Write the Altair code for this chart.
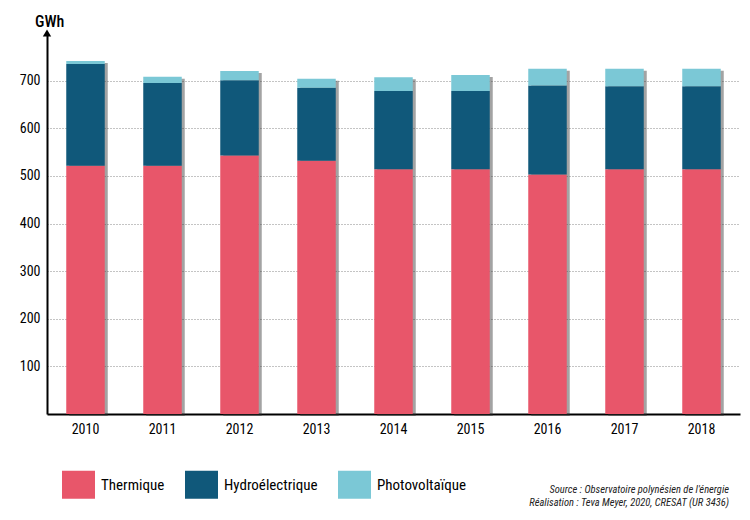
import altair as alt
import pandas as pd

years = ["2010", "2011", "2012", "2013", "2014", "2015", "2016", "2017", "2018"]
thermique = [521, 521, 543, 532, 514, 514, 503, 514, 514]
hydro = [214, 174, 158, 153, 164, 164, 187, 174, 174]
photo = [6, 13, 19, 19, 29, 34, 35, 37, 37]
sources = ["Thermique", "Hydroélectrique", "Photovoltaïque"]
colors = ["#E8566A", "#10587A", "#7BC8D6"]
y_ticks = [100, 200, 300, 400, 500, 600, 700]
credit = "Source : Observatoire polynésien de l'énergie\nRéalisation : Teva Meyer, 2020, CRESAT (UR 3436)"

rows = []
for i, yr in enumerate(years):
    for k, (s, v) in enumerate(zip(sources, [thermique[i], hydro[i], photo[i]])):
        rows.append({"annee": yr, "source": s, "valeur": v, "ordre": k})
df = pd.DataFrame(rows)
tot = pd.DataFrame({"annee": years,
                    "total": [a + b + c for a, b, c in zip(thermique, hydro, photo)]})

FONT = "Liberation Sans Narrow, Roboto Condensed, DejaVu Sans Condensed, Roboto"
W, H = 693, 381

xenc = alt.X("annee:N", sort=years,
             scale=alt.Scale(paddingInner=0.5, paddingOuter=0.25),
             axis=alt.Axis(title=None, labelAngle=0, ticks=False, domainColor="black",
                           domainWidth=2, labelPadding=8, labelFontSize=14,
                           labelColor="black", grid=False))
yscale = alt.Scale(domain=[0, 800], nice=False)
yaxis = alt.Axis(values=y_ticks, title=None, ticks=False, domainColor="black",
                 domainWidth=2, gridDash=[1, 2], gridColor="#888",
                 labelPadding=7, labelFontSize=14, labelColor="black")

shadow = alt.Chart(tot).mark_bar(color="#333", opacity=0.45).encode(
    x=xenc,
    y=alt.Y("total:Q", scale=yscale, axis=yaxis),
    xOffset=alt.value(3),
    yOffset=alt.value(2),
)

bars = alt.Chart(df).mark_bar().encode(
    x=xenc,
    y=alt.Y("valeur:Q", stack="zero", scale=yscale, axis=yaxis),
    color=alt.Color("source:N", scale=alt.Scale(domain=sources, range=colors),
                    legend=alt.Legend(orient="none", legendX=15, legendY=435,
                                      direction="horizontal", title=None,
                                      symbolType="M-1,-0.85H1V0.85H-1Z",
                                      symbolSize=1089, symbolOpacity=1,
                                      symbolStrokeWidth=0, labelFontSize=15,
                                      labelColor="black", columnPadding=20,
                                      labelOffset=6)),
    order=alt.Order("ordre:Q"),
)

arrow = alt.Chart(pd.DataFrame({"v": [800]})).mark_point(
    shape="triangle-up", filled=True, color="black", size=70, opacity=1
).encode(x=alt.value(0), y=alt.Y("v:Q", scale=yscale, axis=yaxis))

unit = alt.Chart(pd.DataFrame({"t": ["GWh"]})).mark_text(
    align="left", baseline="middle", fontSize=16, fontWeight=500, color="black"
).encode(text="t:N", x=alt.value(-12), y=alt.value(-11))

src = alt.Chart(pd.DataFrame({"t": [credit]})).mark_text(
    align="right", baseline="middle", fontSize=10.5, fontStyle="italic",
    color="#222", lineBreak="\n", lineHeight=13
).encode(text="t:N", x=alt.value(682), y=alt.value(457))

chart = alt.layer(shadow, bars, arrow, unit, src).properties(
    width=W, height=H,
    autosize=alt.AutoSizeParams(type="none"),
    padding={"left": 39, "top": 25, "right": 2, "bottom": 96},
).configure(font=FONT).configure_view(stroke=None)

chart.save("out.html", embed_options={"renderer": "svg", "actions": False})
